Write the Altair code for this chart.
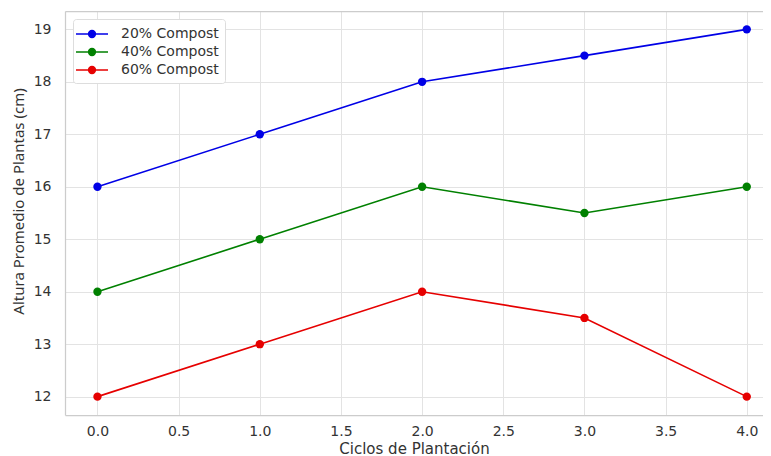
import altair as alt
import pandas as pd

ciclos = [0, 1, 2, 3, 4]
series_names = ["20% Compost", "40% Compost", "60% Compost"]
altura_20 = [16, 17, 18, 18.5, 19]
altura_40 = [14, 15, 16, 15.5, 16]
altura_60 = [12, 13, 14, 13.5, 12]
colors = ["#0000e6", "#008000", "#e60000"]
x_ticks = [0.0, 0.5, 1.0, 1.5, 2.0, 2.5, 3.0, 3.5, 4.0]
y_ticks = [12, 13, 14, 15, 16, 17, 18, 19]

rows = []
for name, vals in zip(series_names, [altura_20, altura_40, altura_60]):
    for c, v in zip(ciclos, vals):
        rows.append({"ciclo": c, "altura": v, "serie": name})
df = pd.DataFrame(rows)

FONT = "DejaVu Sans"
legend_symbol = "M-2,0H2M-0.42,0A0.42,0.42 0 1,0 0.42,0A0.42,0.42 0 1,0 -0.42,0"
x_scale = alt.Scale(domain=[-0.2, 4.1], nice=False, zero=False)

x_enc = alt.X(
    "ciclo:Q",
    scale=x_scale,
    axis=alt.Axis(
        values=x_ticks, format=".1f", title="Ciclos de Plantación",
        tickSize=0, labelPadding=9, titlePadding=3, titleFontSize=15,
        labelOverlap=False,
        domainColor="#cccccc", domainWidth=1.25,
        gridColor="#e3e3e3", gridWidth=1,
    ),
)
y_enc = alt.Y(
    "altura:Q",
    scale=alt.Scale(domain=[11.65, 19.35], nice=False, zero=False),
    axis=alt.Axis(
        values=y_ticks, format="d", title="Altura Promedio de Plantas (cm)",
        labelOverlap=False,
        tickSize=0, labelPadding=14, titlePadding=7,
        titleFont="Noto Sans", titleFontSize=15, titleY=190,
        domainColor="#cccccc", domainWidth=1.25,
        gridColor="#e3e3e3", gridWidth=1,
    ),
)
color_enc = alt.Color(
    "serie:N",
    scale=alt.Scale(domain=series_names, range=colors),
    legend=alt.Legend(
        title=None, orient="top-left", offset=8,
        symbolType=legend_symbol, symbolSize=256, symbolStrokeWidth=1.6,
        symbolOffset=4, labelOffset=20,
        labelFont=FONT, labelFontSize=14, labelColor="#333333",
        strokeColor="#dddddd", fillColor="white", cornerRadius=3,
        padding=6, rowPadding=2,
    ),
)

lines = alt.Chart(df).mark_line(strokeWidth=1.6).encode(x=x_enc, y=y_enc, color=color_enc)
points = alt.Chart(df).mark_point(filled=True, size=70, opacity=1).encode(
    x=alt.X(
        "ciclo:Q",
        scale=x_scale,
        axis=alt.Axis(
            orient="top", labels=False, ticks=False, grid=False, title=None,
            domainColor="#cccccc", domainWidth=1.25,
        ),
    ),
    y="altura:Q",
    color=alt.Color("serie:N", legend=None),
)

chart = (
    alt.layer(lines, points)
    .resolve_axis(x="independent")
    .properties(
        width=698, height=404,
        autosize=alt.AutoSizeParams(type="none"),
        padding={"left": 57, "top": 3, "right": 0, "bottom": 41},
        background="white",
    )
    .configure_view(stroke=None)
    .configure_axis(
        labelFont=FONT, labelFontSize=14, labelColor="#333333",
        titleFont=FONT, titleColor="#333333", titleFontWeight="normal",
    )
)

chart.save("out.html", embed_options={"renderer": "svg", "actions": False})
